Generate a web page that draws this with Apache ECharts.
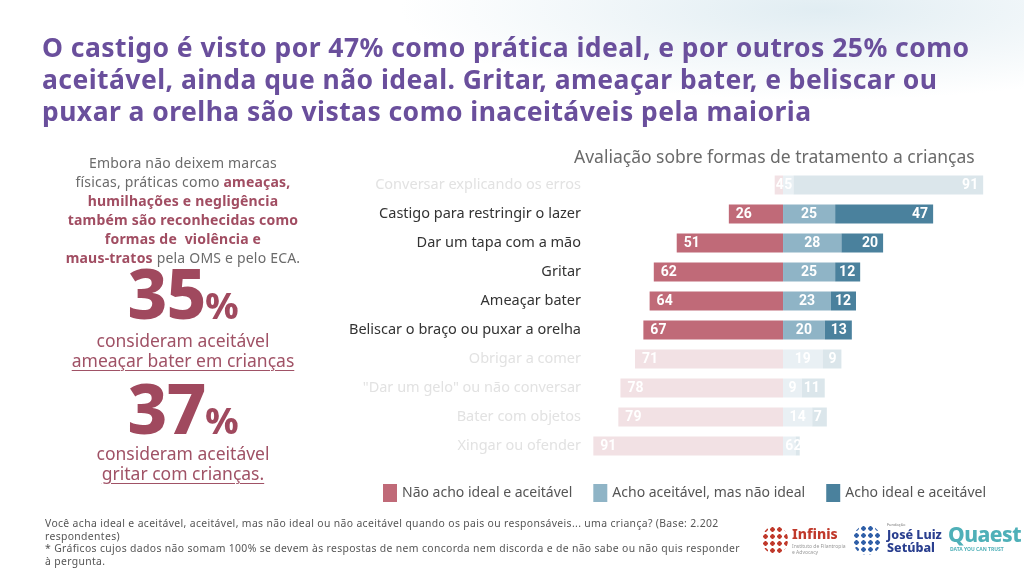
<!DOCTYPE html>
<html>
<head>
<meta charset="utf-8">
<script src="https://cdn.jsdelivr.net/npm/echarts@6/dist/echarts.min.js"></script>
<style>
  html, body { margin: 0; padding: 0; }
  body {
    width: 1024px; height: 577px; position: relative; overflow: hidden;
    background: radial-gradient(ellipse 420px 90px at 820px 10px, rgba(200,222,232,0.55), rgba(255,255,255,0) 100%), #fff;
    font-family: "Noto Sans", sans-serif;
  }
  #chart { position: absolute; left: 0; top: 0; width: 1024px; height: 577px; }
  .overlay { position: absolute; pointer-events: none; }
  #headline {
    left: 42px; top: 31px; width: 990px; white-space: nowrap;
    font-family: "Noto Sans", sans-serif; font-weight: 700; font-size: 26.5px;
    line-height: 32px; color: #6a4f9c; letter-spacing: 0.45px;
  }
  .side { left: 20px; width: 326px; text-align: center; white-space: nowrap; }
  .intro { top: 153px; color: #6b6b6b; font-size: 14px; line-height: 19px; letter-spacing: 0.2px; }
  .intro b { color: #a14d62; }
  .big { font-weight: 800; color: #a0495e; font-size: 69px; line-height: 70px; letter-spacing: -1px; }
  .big span { font-size: 36px; letter-spacing: 0; }
  .cap { color: #a05266; font-size: 17.5px; line-height: 20px; }
  .cap u { text-underline-offset: 3px; text-decoration-thickness: 1px; }
  #foot {
    left: 45px; top: 517px; width: 720px; font-size: 10.4px; line-height: 12.6px; color: #555;
    white-space: nowrap; letter-spacing: 0.35px;
  }
  #logos { left: 762px; top: 522px; width: 260px; height: 40px; font-family: "Noto Sans", sans-serif; }
  #logos div { position: absolute; }
</style>
</head>
<body>
<div id="chart"></div>

<div id="headline" class="overlay">O castigo é visto por 47% como prática ideal, e por outros 25% como<br>aceitável, ainda que não ideal. Gritar, ameaçar bater, e beliscar ou<br>puxar a orelha são vistas como inaceitáveis pela maioria</div>

<div class="overlay side intro">Embora não deixem marcas<br>físicas, práticas como <b>ameaças,<br>humilhações e negligência<br>também são reconhecidas como<br>formas de &nbsp;violência e<br>maus-tratos</b> pela OMS e pelo ECA.</div>
<div class="overlay side big" style="top:257px;">35<span>%</span></div>
<div class="overlay side cap" style="top:330px;">consideram aceitável<br><u>ameaçar bater em crianças</u></div>
<div class="overlay side big" style="top:372px;">37<span>%</span></div>
<div class="overlay side cap" style="top:443px;">consideram aceitável<br><u>gritar com crianças.</u></div>

<div id="foot" class="overlay">Você acha ideal e aceitável, aceitável, mas não ideal ou não aceitável quando os pais ou responsáveis... uma criança? (Base: 2.202<br>respondentes)<br>* Gráficos cujos dados não somam 100% se devem às respostas de nem concorda nem discorda e de não sabe ou não quis responder<br>à pergunta.</div>

<div id="logos" class="overlay">
  <div style="left:0;top:4px;width:26px;height:28px;border-radius:50%;background:radial-gradient(circle,#c0392b 0 2px,transparent 2.5px) 0 0/7px 7px;"></div>
  <div style="left:30px;top:2px;font-weight:800;font-size:14px;color:#c0392b;">Infinis</div>
  <div style="left:30px;top:21px;font-size:5px;line-height:6px;color:#999;">Instituto de Filantropia<br>e Advocacy</div>
  <div style="left:91px;top:3px;width:28px;height:30px;border-radius:50%;background:radial-gradient(circle,#2f5fa8 0 2px,transparent 2.5px) 0 0/7px 7px;"></div>
  <div style="left:125px;top:0px;font-size:4px;color:#777;">Fundação</div>
  <div style="left:125px;top:6px;font-weight:800;font-size:12.5px;line-height:13px;color:#2a3f8f;">José Luiz<br>Setúbal</div>
  <div style="left:186px;top:-2px;font-weight:800;font-size:21px;color:#4fb0b8;letter-spacing:-0.5px;">Quaest</div>
  <div style="left:188px;top:24px;font-size:5px;color:#4fb0b8;font-weight:700;">DATA YOU CAN TRUST</div>
</div>

<script>
// dados
const categorias = [
  'Conversar explicando os erros',
  'Castigo para restringir o lazer',
  'Dar um tapa com a mão',
  'Gritar',
  'Ameaçar bater',
  'Beliscar o braço ou puxar a orelha',
  'Obrigar a comer',
  '"Dar um gelo" ou não conversar',
  'Bater com objetos',
  'Xingar ou ofender'
];
const naoAceitavel = [4, 26, 51, 62, 64, 67, 71, 78, 79, 91];
const aceitavelNaoIdeal = [5, 25, 28, 25, 23, 20, 19, 9, 14, 6];
const idealAceitavel = [91, 47, 20, 12, 12, 13, 9, 11, 7, 2];
// linhas em destaque (as demais ficam esmaecidas)
const destaque = [false, true, true, true, true, true, false, false, false, false];

const nomes = ['Não acho ideal e aceitável', 'Acho aceitável, mas não ideal', 'Acho ideal e aceitável'];
const cores = ['#c06a78', '#8fb4c6', '#4a819d'];

const chart = echarts.init(document.getElementById('chart'));

// mistura a cor com branco para as linhas esmaecidas
function esmaecer(hex, a) {
  const n = parseInt(hex.slice(1), 16);
  const c = [(n >> 16) & 255, (n >> 8) & 255, n & 255].map(v => Math.round(255 - a * (255 - v)));
  return 'rgb(' + c.join(',') + ')';
}

function itens(valores, sinal, cor, extra) {
  return valores.map((v, i) => {
    const item = {
      value: sinal * v,
      itemStyle: { color: destaque[i] ? cor : esmaecer(cor, 0.2) }
    };
    if (extra && extra[i]) item.label = extra[i];
    return item;
  });
}

const rotulo = (pos, dist) => ({
  show: true,
  position: pos,
  distance: dist,
  color: '#fff',
  fontFamily: 'Roboto',
  fontWeight: 'bold',
  fontSize: 14,
  formatter: p => Math.abs(p.value)
});

const option = {
  animation: false,
  color: cores,
  title: {
    text: 'Avaliação sobre formas de tratamento a crianças',
    left: 569,
    top: 144,
    textStyle: { fontFamily: 'Noto Sans', fontWeight: 'normal', fontSize: 17.5, color: '#6a6a6a' }
  },
  legend: {
    left: 378,
    top: 479,
    itemWidth: 14,
    itemHeight: 18,
    itemGap: 21,
    icon: 'rect',
    textStyle: { fontFamily: 'Noto Sans', fontSize: 14, color: '#555' },
    data: nomes
  },
  grid: { left: 585, right: 32.5, top: 170.5, height: 290 },
  xAxis: {
    type: 'value',
    min: -95,
    max: 100,
    show: false
  },
  yAxis: {
    type: 'category',
    inverse: true,
    axisLine: { show: false },
    axisTick: { show: false },
    axisLabel: {
      margin: 4,
      fontFamily: 'Noto Sans',
      fontSize: 14.5,
      color: '#333'
    },
    data: categorias.map((c, i) => ({
      value: c,
      textStyle: { color: destaque[i] ? '#333' : '#e2e2e2' }
    }))
  },
  series: [
    {
      name: nomes[0], type: 'bar', stack: 'total', barWidth: 19,
      itemStyle: { color: cores[0] },
      label: rotulo('insideLeft', 7),
      data: itens(naoAceitavel, -1, cores[0], { 0: { distance: 1 } })
    },
    {
      name: nomes[1], type: 'bar', stack: 'total', barWidth: 19,
      itemStyle: { color: cores[1] },
      label: rotulo('inside', 0),
      data: itens(aceitavelNaoIdeal, 1, cores[1])
    },
    {
      name: nomes[2], type: 'bar', stack: 'total', barWidth: 19,
      itemStyle: { color: cores[2] },
      label: rotulo('insideRight', 5),
      data: itens(idealAceitavel, 1, cores[2], { 9: { position: 'inside' } })
    }
  ]
};

chart.setOption(option);
window.addEventListener('resize', () => chart.resize());
</script>
</body>
</html>
